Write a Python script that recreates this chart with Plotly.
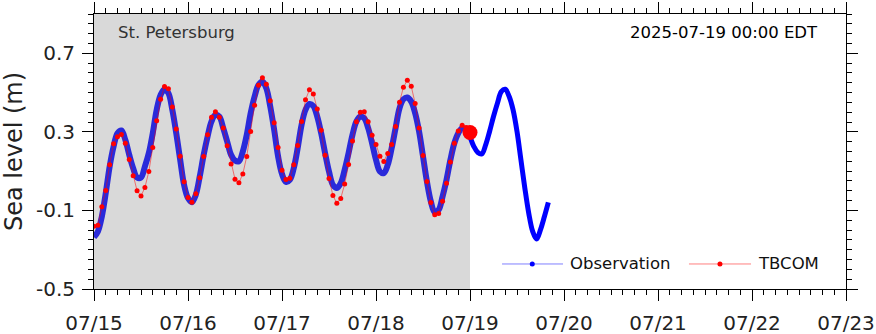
import pandas as pd
import plotly.graph_objects as go

# ---------------- data ----------------
start_time = "2025-07-15 00:00"
now_time = "2025-07-19 00:00"
axis_start = "2025-07-15 00:00"
axis_end = "2025-07-23 00:00"
station = "St. Petersburg"
stamp = "2025-07-19 00:00 EDT"

# hourly observation values (m) from 07/15 00:00 up to 07/19 00:00
obs_past = [
    -0.236, -0.207, -0.131, -0.012, 0.124, 0.225, 0.293, 0.307, 0.259, 0.183,
    0.115, 0.068, 0.068, 0.124, 0.192, 0.293, 0.412, 0.488, 0.517, 0.497,
    0.412, 0.293, 0.158, 0.030, -0.037, -0.058, -0.020, 0.073, 0.183, 0.276,
    0.353, 0.386, 0.378, 0.319, 0.251, 0.183, 0.154, 0.150, 0.200, 0.285,
    0.395, 0.480, 0.539, 0.556, 0.522, 0.429, 0.310, 0.175, 0.085, 0.045,
    0.056, 0.115, 0.217, 0.336, 0.412, 0.442, 0.432, 0.378, 0.293, 0.192,
    0.098, 0.030, 0.014, 0.039, 0.107, 0.192, 0.285, 0.353, 0.378, 0.369,
    0.319, 0.242, 0.158, 0.098, 0.090, 0.132, 0.217, 0.319, 0.420, 0.466,
    0.475, 0.454, 0.395, 0.302, 0.175, 0.047, -0.054, -0.110, -0.097, -0.029,
    0.056, 0.158, 0.242, 0.293, 0.319, 0.310, 0.276,
]
# hourly observation values (m) from 07/19 00:00 onward
obs_future = [
    0.276, 0.225, 0.195, 0.188, 0.234, 0.302, 0.378, 0.446, 0.505, 0.517,
    0.480, 0.412, 0.302, 0.158, 0.014, -0.114, -0.207, -0.246, -0.198, -0.131,
    -0.059,
]
# hourly TBCOM model values (m) from 07/15 00:00 to 07/19 00:00
tbcom = [
    -0.181, -0.176, -0.081, 0.002, 0.132, 0.239, 0.275, 0.286, 0.242, 0.159,
    0.076, 0.000, -0.027, 0.017, 0.098, 0.220, 0.356, 0.466, 0.531, 0.519,
    0.427, 0.314, 0.176, 0.046, -0.034, -0.058, -0.015, 0.066, 0.175, 0.285,
    0.375, 0.403, 0.375, 0.320, 0.229, 0.137, 0.059, 0.041, 0.086, 0.175,
    0.302, 0.436, 0.537, 0.576, 0.542, 0.459, 0.346, 0.220, 0.105, 0.058,
    0.064, 0.132, 0.231, 0.353, 0.463, 0.514, 0.493, 0.417, 0.308, 0.181,
    0.063, -0.024, -0.064, -0.039, 0.034, 0.134, 0.254, 0.351, 0.400, 0.402,
    0.351, 0.283, 0.236, 0.176, 0.149, 0.190, 0.236, 0.327, 0.451, 0.527,
    0.563, 0.532, 0.444, 0.320, 0.180, 0.047, -0.059, -0.122, -0.115, -0.053,
    0.039, 0.146, 0.242, 0.305, 0.334, 0.322, 0.297,
]
y_ticks = [-0.5, -0.1, 0.3, 0.7]
y_range = [-0.5, 0.9]

t_past = pd.date_range(start_time, periods=len(obs_past), freq="h")
t_future = pd.date_range(now_time, periods=len(obs_future), freq="h")
t_tbcom = pd.date_range(start_time, periods=len(tbcom), freq="h")

# ---------------- figure ----------------
fig = go.Figure()

fig.add_trace(go.Scatter(
    x=t_past, y=obs_past, mode="lines", line=dict(color="#2a2ada", width=6, shape="spline"),
    showlegend=False, hoverinfo="skip"))
fig.add_trace(go.Scatter(
    x=t_future, y=obs_future, mode="lines", line=dict(color="#0000ff", width=5, shape="spline"),
    showlegend=False, hoverinfo="skip"))
fig.add_trace(go.Scatter(
    x=t_tbcom, y=tbcom, mode="lines+markers",
    line=dict(color="rgba(255,0,0,0.5)", width=1),
    marker=dict(color="#ff0000", size=5),
    showlegend=False, hoverinfo="skip"))
fig.add_trace(go.Scatter(
    x=[t_tbcom[-1]], y=[tbcom[-1]], mode="markers",
    marker=dict(color="#ff0000", size=15), showlegend=False, hoverinfo="skip"))

# shaded hindcast period
fig.add_shape(type="rect", xref="x", yref="paper", x0=start_time, x1=now_time,
              y0=0, y1=1, fillcolor="#d9d9d9", line=dict(width=0), layer="below")

# manual legend
def legend_item(x_line0, x_line1, x_dot, x_text, line_col, dot_col, label):
    yl = 0.091
    fig.add_shape(type="line", xref="paper", yref="paper", x0=x_line0, x1=x_line1,
                  y0=yl, y1=yl, line=dict(color=line_col, width=1))
    fig.add_shape(type="circle", xref="paper", yref="paper", xsizemode="pixel",
                  ysizemode="pixel", xanchor=x_dot, yanchor=yl, x0=-2.5, x1=2.5,
                  y0=-2.5, y1=2.5, fillcolor=dot_col, line=dict(width=0))
    fig.add_annotation(xref="paper", yref="paper", x=x_text, y=yl, text=label,
                       showarrow=False, xanchor="left", yanchor="middle",
                       font=dict(size=16.5, color="#111111"))

legend_item(0.5426, 0.6237, 0.5828, 0.630, "rgba(0,0,255,0.5)", "#0000ff", "Observation")
legend_item(0.7912, 0.8737, 0.8324, 0.880, "rgba(255,0,0,0.5)", "#ff0000", "TBCOM")

fig.add_annotation(xref="paper", yref="paper", x=0.029, y=0.933, text=station,
                   showarrow=False, xanchor="left", yanchor="middle",
                   font=dict(size=16.5, color="#333333"))
fig.add_annotation(xref="paper", yref="paper", x=0.965, y=0.933, text=stamp,
                   showarrow=False, xanchor="right", yanchor="middle",
                   font=dict(size=16.5, color="#000000"))

axis_common = dict(showline=True, linecolor="black", linewidth=1, mirror="ticks",
                   ticks="outside", tickcolor="black", ticklen=11, tickwidth=1,
                   showgrid=False, zeroline=False, automargin=False,
                   tickfont=dict(family="DejaVu Sans", size=20, color="#222222"))

fig.update_xaxes(range=[axis_start, axis_end], dtick=86400000, tick0=axis_start,
                 tickformat="%m/%d", ticklabelstandoff=5,
                 minor=dict(dtick=3 * 3600000, ticks="outside", ticklen=5,
                            tickcolor="black", tickwidth=1, showgrid=False),
                 **axis_common)
fig.update_yaxes(range=y_range, tickvals=y_ticks, ticktext=[f"{v:g}" for v in y_ticks],
                 ticklabelstandoff=3,
                 minor=dict(dtick=0.05, tick0=-0.5, ticks="outside", ticklen=5,
                            tickcolor="black", tickwidth=1, showgrid=False),
                 title=dict(text="Sea level (m)", font=dict(family="DejaVu Sans", size=24,
                                                             color="#222222")),
                 **axis_common)

fig.update_layout(width=876, height=334, margin=dict(l=94, r=30, t=14, b=45),
                  plot_bgcolor="white", paper_bgcolor="white",
                  font=dict(family="DejaVu Sans"))

fig.write_html("out.html")
